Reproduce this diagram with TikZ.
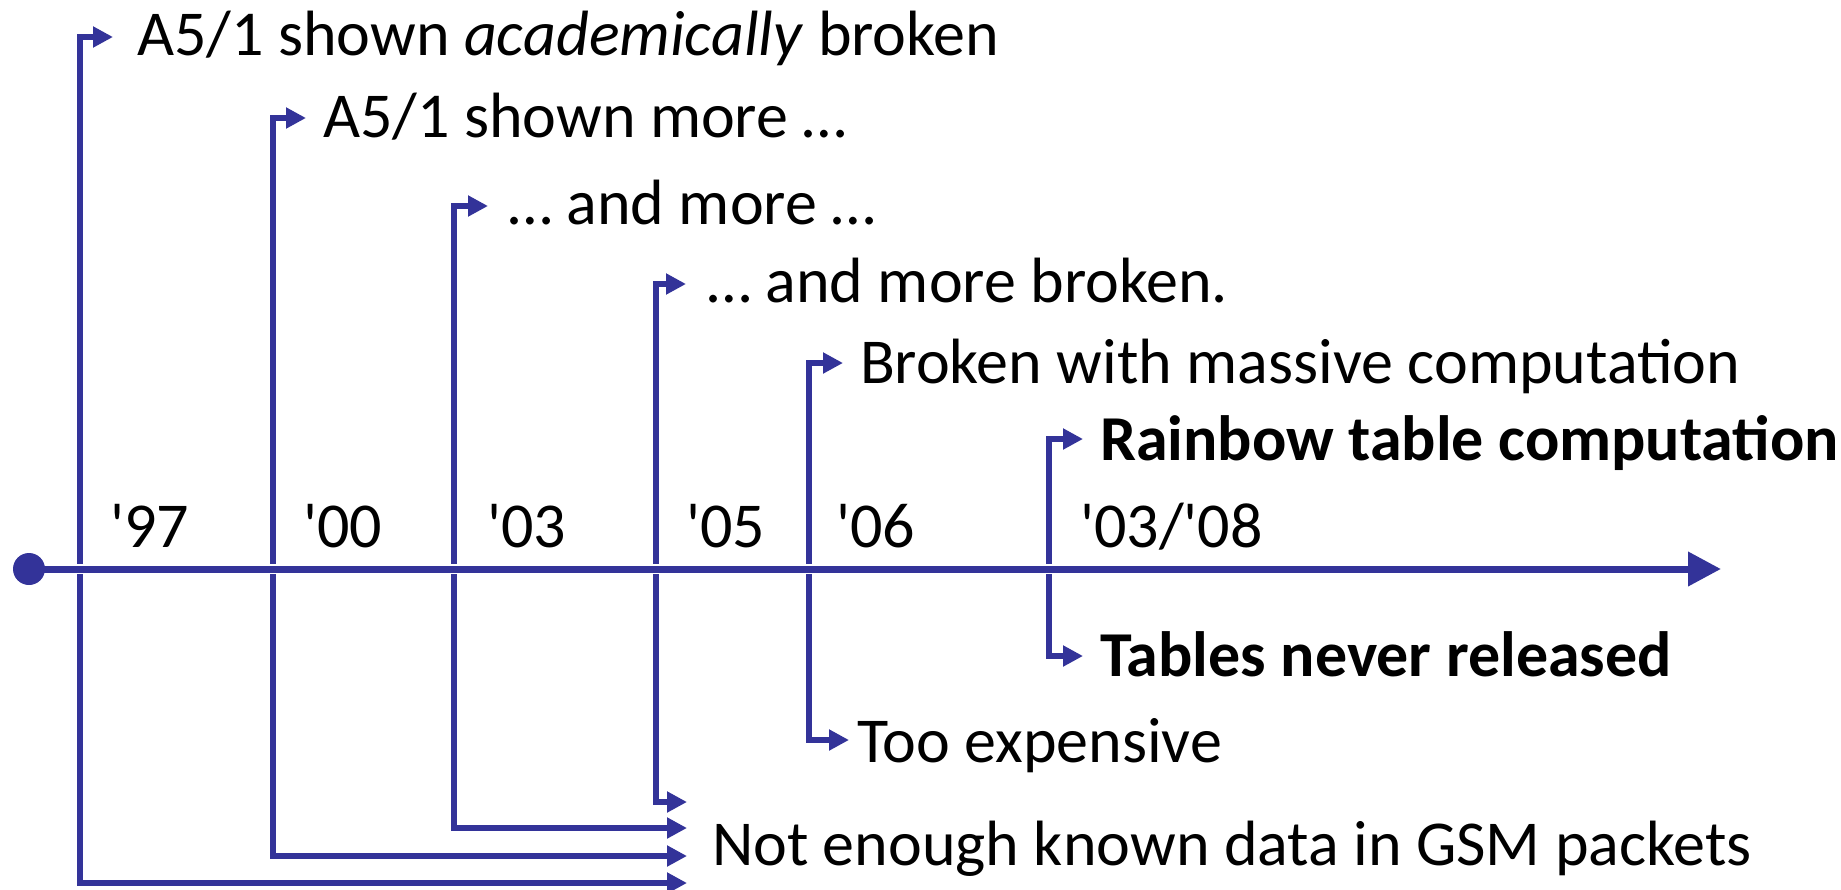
\documentclass[tikz,border=0pt]{standalone}
\usepackage{fontspec}
\setmainfont{Carlito}
\usetikzlibrary{arrows.meta}
\definecolor{tlblue}{RGB}{51,51,153}
\tikzset{
  txt/.style={anchor=base west, inner sep=0pt, outer sep=0pt, text=black, font=\fontsize{64}{76}\selectfont},
  branch/.style={draw=tlblue, line width=6pt, line join=miter, {Triangle[length=20pt,width=20pt]}-{Triangle[length=20pt,width=20pt]}},
  axisline/.style={draw=tlblue, line width=7pt, -{Triangle[length=33pt,width=33pt]}},
  axisgap/.style={draw=white, line width=10pt},
  startdot/.style={circle, fill=tlblue, minimum size=32pt, inner sep=0pt}
}
\begin{document}
\begin{tikzpicture}[x=1pt,y=-1pt]
\useasboundingbox (0,0) rectangle (1841,889);
% axis points
\coordinate (origin) at (29,569);
\coordinate (axend) at (1721,569);
\coordinate (x97) at (80,569);
\coordinate (x00) at (273,569);
\coordinate (x03) at (454,569);
\coordinate (x05) at (656,569);
\coordinate (x06) at (809,569);
\coordinate (x08) at (1049,569);
% arrow tips
\coordinate (a97t) at (113,37);   \coordinate (a97b) at (687,883);
\coordinate (a00t) at (306,118);  \coordinate (a00b) at (687,856);
\coordinate (a03t) at (488,206);  \coordinate (a03b) at (687,828);
\coordinate (a05t) at (686,284);  \coordinate (a05b) at (687,802);
\coordinate (a06t) at (843,363);  \coordinate (a06b) at (849,740);
\coordinate (a08t) at (1083,439); \coordinate (a08b) at (1083,656);
% branches
\draw[branch] (a97t) -| (x97) |- (a97b);
\draw[branch] (a00t) -| (x00) |- (a00b);
\draw[branch] (a03t) -| (x03) |- (a03b);
\draw[branch] (a05t) -| (x05) |- (a05b);
\draw[branch] (a06t) -| (x06) |- (a06b);
\draw[branch] (a08t) -| (x08) |- (a08b);
% axis
\draw[axisgap] ([xshift=16pt]origin) -- ([xshift=-34pt]axend);
\draw[axisline] (origin) -- (axend);
\node[startdot] (dot) at (origin) {};
% texts
\node[txt] (t1) at (137,55) {A5/1 shown \textit{academically} broken};
\node[txt] (t2) at (323,137) {A5/1 shown more …};
\node[txt] (t3) at (508,224) {… and more …};
\node[txt] (t4) at (707,302) {… and more broken.};
\node[txt] (t5) at (860,383) {Broken with massive computation};
\node[txt] (t6) at (1100,460) {\bfseries Rainbow table computation};
\node[txt] (t7) at (1100,676) {\bfseries Tables never released};
\node[txt] (t8) at (857,762) {Too expensive};
\node[txt] (t9) at (712,865) {Not enough known data in GSM packets};
% years
\node[txt] (y97) at (110,547) {\textquotesingle97};
\node[txt] (y00) at (303,547) {\textquotesingle00};
\node[txt] (y03) at (487,547) {\textquotesingle03};
\node[txt] (y05) at (686,547) {\textquotesingle05};
\node[txt] (y06) at (836,547) {\textquotesingle06};
\node[txt] (y08) at (1080,547) {\textquotesingle03/\textquotesingle08};
\end{tikzpicture}
\end{document}
